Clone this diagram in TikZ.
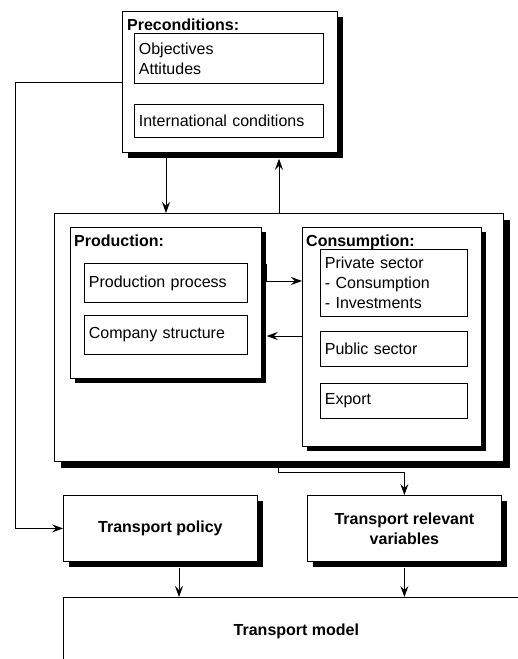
\documentclass[tikz,border=0pt]{standalone}
\usepackage{fontspec}
\setmainfont{Liberation Sans}
\usetikzlibrary{arrows.meta,shadows}

\begin{document}
\begin{tikzpicture}[x=1pt,y=-1pt,
  frame/.style={draw=black, line width=0.8pt, fill=white, anchor=north west,
    inner sep=0pt, font=\fontsize{16}{20}\selectfont},
  shade/.style={drop shadow={shadow xshift=#1, shadow yshift=-#1, fill=black, opacity=1}},
  item/.style={frame, inner xsep=4.5pt, align=left},
  title/.style={anchor=base west, inner sep=0pt, font=\fontsize{16}{20}\selectfont\bfseries},
  arr/.style={line width=0.8pt, -{Stealth[length=11pt,width=8pt,inset=4pt]}},
  conn/.style={line width=0.8pt}
]
\useasboundingbox (0,0) rectangle (518,659);
\clip (0,0) rectangle (518,659);

% Preconditions block
\node[frame, shade=6pt, minimum width=215pt, minimum height=141pt] (pre) at (122,11) {};
\node[title] (pretitle) at (127,30) {Preconditions:};
\node[item, minimum width=189pt, text width=180pt, minimum height=50pt] (obj) at (134,33) {Objectives\\Attitudes};
\node[item, minimum width=189pt, text width=180pt, minimum height=33pt] (intl) at (134,104) {International conditions};

% Economy block
\node[frame, shade=7pt, minimum width=449pt, minimum height=248pt] (big) at (54,213) {};

\node[frame, shade=5pt, minimum width=191pt, minimum height=151pt] (prod) at (70,227) {};
\node[title] (prodtitle) at (74,246) {Production:};
\node[item, minimum width=163pt, text width=154pt, minimum height=39pt] (pp) at (84,263) {Production process};
\node[item, minimum width=163pt, text width=154pt, minimum height=39pt] (cs) at (84,315) {Company structure};

\node[frame, shade=5pt, minimum width=179pt, minimum height=219pt] (cons) at (302,227) {};
\node[title] (constitle) at (306,246) {Consumption:};
\node[item, minimum width=147pt, text width=138pt, minimum height=67pt] (priv) at (320,249) {Private sector\\- Consumption\\- Investments};
\node[item, minimum width=147pt, text width=138pt, minimum height=35pt] (pub) at (320,331) {Public sector};
\node[item, minimum width=147pt, text width=138pt, minimum height=35pt] (exp) at (320,383) {Export};

% Transport blocks
\node[frame, shade=6pt, minimum width=194pt, minimum height=66pt, font=\fontsize{16}{20}\selectfont\bfseries] (tpol) at (63,495) {Transport policy};
\node[frame, shade=6pt, minimum width=194pt, minimum height=66pt, align=center, font=\fontsize{16}{20}\selectfont\bfseries] (tvar) at (307,495) {Transport relevant\\variables};
\node[frame, minimum width=466pt, minimum height=68pt, font=\fontsize{16}{20}\selectfont\bfseries] (model) at (63,597) {Transport model};

% Connectors
\coordinate (dn) at ([xshift=44pt]pre.south west);
\draw[arr] (dn) -- (dn |- big.north);
\coordinate (up) at ([xshift=157pt,yshift=-6pt]pre.south west);
\draw[arr] (up |- big.north) -- (up);

\draw[arr] (pre.west) -- ++(-107,0) |- (tpol.west);

\coordinate (pc) at ([xshift=5pt,yshift=-37pt]prod.north east);
\draw[arr] (pc) |- ([yshift=-54pt]cons.north west);
\draw[arr] ([yshift=-109pt]cons.north west) -- ([xshift=5pt,yshift=-109pt]prod.north east);

\coordinate (bx) at ([xshift=224pt]big.south west);
\draw[arr] (bx) -- ++(0,11) -| (tvar.north);

\coordinate (tp) at ([xshift=116pt,yshift=-6pt]tpol.south west);
\draw[arr] (tp) -- (tp |- model.north);
\draw[arr] ([yshift=-6pt]tvar.south) -- (tvar.south |- model.north);
\end{tikzpicture}
\end{document}
